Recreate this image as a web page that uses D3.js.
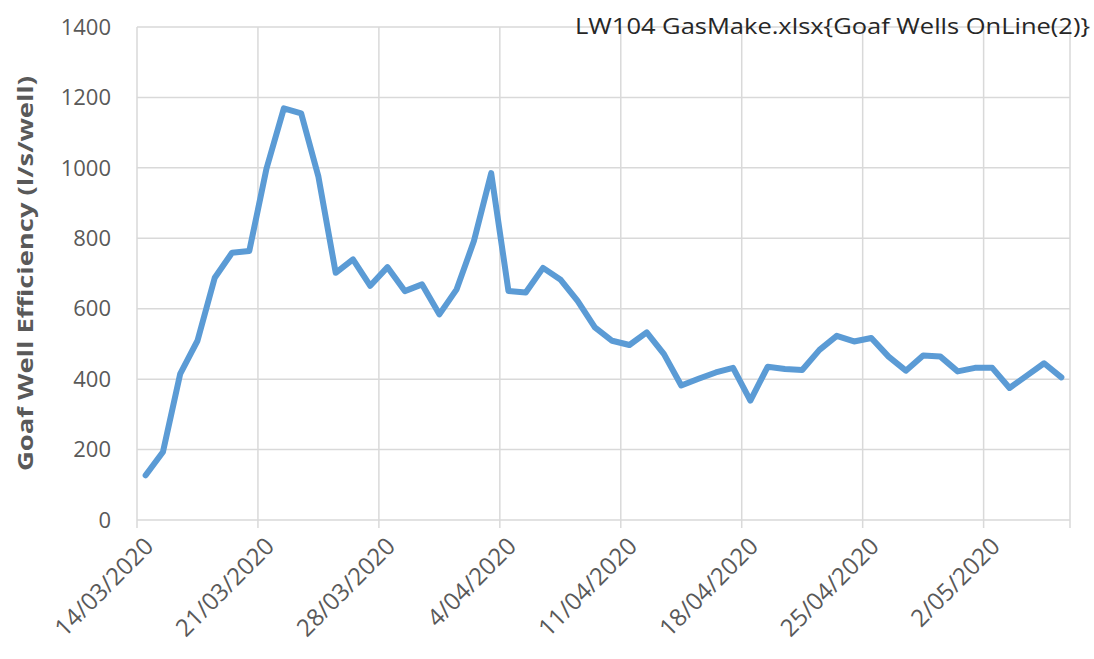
<!DOCTYPE html>
<html>
<head>
<meta charset="utf-8">
<script src="https://cdn.jsdelivr.net/npm/d3@7"></script>
<style>
  body { margin: 0; background: #fff; }
  svg text { font-family: "Open Sans", sans-serif; }
</style>
</head>
<body>
<svg width="1094" height="659"></svg>
<script>
// daily readings from 14/03/2020
var startDate = '2020-03-14'
var endDate = '2020-05-07'
var values = [127, 193, 415, 509, 688, 759, 764, 999, 1169, 1155,
  975, 702, 740, 665, 718, 650, 669, 584, 655, 792,
  985, 650, 646, 716, 683, 622, 547, 509, 497, 533,
  471, 382, 401, 419, 432, 339, 435, 429, 426, 483,
  523, 507, 517, 464, 424, 467, 464, 422, 432, 432,
  375, 410, 445, 405]
var yTicks = [0, 200, 400, 600, 800, 1000, 1200, 1400]
var xTickLabels = ['14/03/2020', '21/03/2020', '28/03/2020', '4/04/2020',
  '11/04/2020', '18/04/2020', '25/04/2020', '2/05/2020']
var title = 'LW104 GasMake.xlsx{Goaf Wells OnLine(2)}'
var yTitle = 'Goaf Well Efficiency (l/s/well)'

var svg = d3.select('svg')
var plotLeft = 137, plotRight = 1070, plotTop = 27, plotBottom = 520

var parse = d3.utcParse('%Y-%m-%d')
var days = d3.utcDay.range(parse(startDate), parse(endDate))
var data = values.map((v, i) => ({ date: days[i], value: v }))

var x = d3.scaleUtc().domain([parse(startDate), parse(endDate)]).range([plotLeft, plotRight])
var y = d3.scaleLinear().domain([0, 1400]).range([plotBottom, plotTop])
var tickDates = xTickLabels.map((t, i) => d3.utcDay.offset(parse(startDate), i * 7))

// horizontal grid
svg.append('g')
  .selectAll('line')
  .data(yTicks)
  .enter()
  .append('line')
  .attr('x1', plotLeft)
  .attr('x2', plotRight)
  .attr('y1', d => y(d))
  .attr('y2', d => y(d))
  .attr('stroke', '#d9d9d9')
  .attr('stroke-width', 1.5)

// vertical grid incl. right edge
svg.append('g')
  .selectAll('line')
  .data(tickDates.concat([parse(endDate)]))
  .enter()
  .append('line')
  .attr('x1', d => x(d))
  .attr('x2', d => x(d))
  .attr('y1', plotTop)
  .attr('y2', plotBottom + 8)
  .attr('stroke', '#d9d9d9')
  .attr('stroke-width', 1.5)

// y tick labels
svg.append('g')
  .selectAll('text')
  .data(yTicks)
  .enter()
  .append('text')
  .attr('x', 111)
  .attr('y', d => y(d))
  .attr('dy', '0.35em')
  .attr('text-anchor', 'end')
  .attr('font-size', 22)
  .attr('fill', '#595959')
  .text(d => d)

// x tick labels
svg.append('g')
  .selectAll('text')
  .data(tickDates)
  .enter()
  .append('text')
  .attr('transform', d => 'translate(' + (x(d) + 6) + ',' + (plotBottom + 16) + ') rotate(-45)')
  .attr('text-anchor', 'end')
  .attr('dy', '0.7em')
  .attr('font-size', 24)
  .attr('fill', '#595959')
  .text((d, i) => xTickLabels[i])

// y axis title
svg.append('text')
  .attr('transform', 'translate(33,' + ((plotTop + plotBottom) / 2) + ') rotate(-90)')
  .attr('text-anchor', 'middle')
  .attr('font-size', 22)
  .attr('font-weight', 'bold')
  .attr('textLength', 395)
  .attr('lengthAdjust', 'spacingAndGlyphs')
  .attr('fill', '#595959')
  .text(yTitle)

// chart title
svg.append('text')
  .attr('x', 1090)
  .attr('y', 34)
  .attr('text-anchor', 'end')
  .attr('font-size', 22)
  .attr('textLength', 515)
  .attr('lengthAdjust', 'spacingAndGlyphs')
  .attr('fill', '#262626')
  .text(title)

// the line
var line = d3.line()
  .x(d => x(d3.utcHour.offset(d.date, 12)))
  .y(d => y(d.value))

svg.append('path')
  .datum(data)
  .attr('d', line)
  .attr('fill', 'none')
  .attr('stroke', '#5b9bd5')
  .attr('stroke-width', 6)
  .attr('stroke-linejoin', 'round')
  .attr('stroke-linecap', 'round')
</script>
</body>
</html>
